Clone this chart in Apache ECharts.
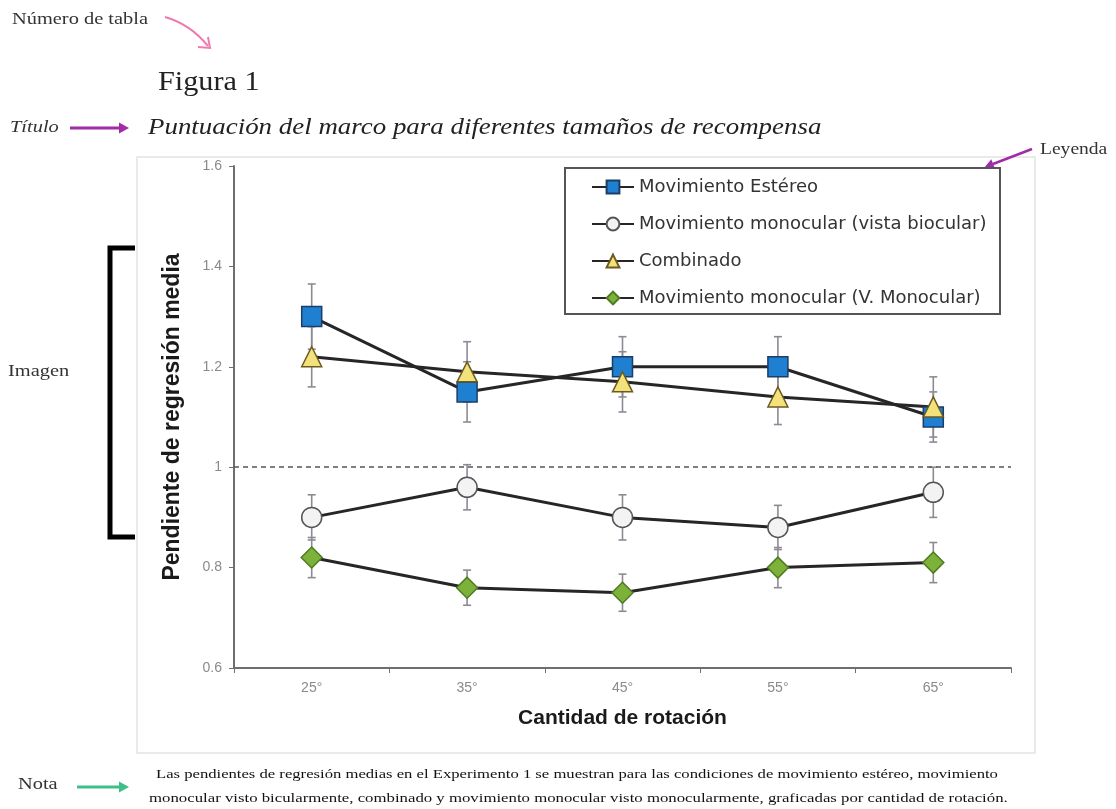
<!DOCTYPE html>
<html>
<head>
<meta charset="utf-8">
<script src="https://cdn.jsdelivr.net/npm/echarts@6/dist/echarts.min.js"></script>
<style>
html,body{margin:0;padding:0;background:#fff;}
#c{width:1116px;height:809px;}
</style>
</head>
<body>
<div id="c"></div>
<script>
// ---- data ----
const categories = ['25°', '35°', '45°', '55°', '65°'];
const seriesNames = [
  'Movimiento Estéreo',
  'Movimiento monocular (vista biocular)',
  'Combinado',
  'Movimiento monocular (V. Monocular)'
];
const estereo = [1.30, 1.15, 1.20, 1.20, 1.10];
const estereoErr = [0.065, 0.06, 0.06, 0.06, 0.05];
const monoBinocular = [0.90, 0.96, 0.90, 0.88, 0.95];
const monoBinocularErr = [0.045, 0.045, 0.045, 0.044, 0.05];
const combinado = [1.22, 1.19, 1.17, 1.14, 1.12];
const combinadoErr = [0.06, 0.06, 0.06, 0.055, 0.06];
const monoMonocular = [0.82, 0.76, 0.75, 0.80, 0.81];
const monoMonocularErr = [0.04, 0.035, 0.037, 0.04, 0.04];
const yTicks = { min: 0.6, max: 1.6, interval: 0.2 };
const referenceLine = 1;

const titleText = 'Puntuación del marco para diferentes tamaños de recompensa';
const figText = 'Figura 1';
const noteLine1 = 'Las pendientes de regresión medias en el Experimento 1 se muestran para las condiciones de movimiento estéreo, movimiento';
const noteLine2 = 'monocular visto bicularmente, combinado y movimiento monocular visto monocularmente, graficadas por cantidad de rotación.';

// ---- chart ----
const chart = echarts.init(document.getElementById('c'), null, { renderer: 'canvas' });

function errorSeries(vals, errs) {
  return {
    type: 'custom',
    silent: true,
    z: 1,
    data: vals.map((v, i) => [i, v - errs[i], v + errs[i]]),
    renderItem: function (params, api) {
      const lo = api.coord([api.value(0), api.value(1)]);
      const hi = api.coord([api.value(0), api.value(2)]);
      const w = 4;
      const st = { stroke: '#8d8a94', lineWidth: 1.6 };
      return {
        type: 'group',
        children: [
          { type: 'line', shape: { x1: lo[0], y1: lo[1], x2: hi[0], y2: hi[1] }, style: st },
          { type: 'line', shape: { x1: lo[0] - w, y1: lo[1], x2: lo[0] + w, y2: lo[1] }, style: st },
          { type: 'line', shape: { x1: hi[0] - w, y1: hi[1], x2: hi[0] + w, y2: hi[1] }, style: st }
        ]
      };
    }
  };
}

function lineSeries(name, vals, symbol, size, fill, border) {
  return {
    type: 'line',
    name: name,
    data: vals,
    symbol: symbol,
    symbolSize: size,
    z: 3,
    lineStyle: { color: '#262626', width: 3 },
    itemStyle: { color: fill, borderColor: border, borderWidth: 1.5 }
  };
}

const serif = '"Liberation Serif", "Times New Roman", serif';

function arrowHead(x, y, angle, size, color) {
  const a = angle;
  const p1 = [x, y];
  const p2 = [x - size * Math.cos(a) + size * 0.55 * Math.sin(a), y - size * Math.sin(a) - size * 0.55 * Math.cos(a)];
  const p3 = [x - size * Math.cos(a) - size * 0.55 * Math.sin(a), y - size * Math.sin(a) + size * 0.55 * Math.cos(a)];
  return { type: 'polygon', shape: { points: [p1, p2, p3] }, style: { fill: color } };
}

const graphics = [
  // faint frame around the chart image
  { type: 'rect', shape: { x: 137, y: 157, width: 898, height: 596 }, style: { fill: 'none', stroke: '#e4e4e4', lineWidth: 1.5 }, z: 0 },
  // legend frame
  { type: 'rect', shape: { x: 565, y: 168, width: 435, height: 146 }, style: { fill: '#fff', stroke: '#555', lineWidth: 2 }, z: 5 },
  // annotations
  { type: 'text', x: 12, y: 20, scaleX: 1.2, style: { text: 'Número de tabla', font: '17px ' + serif, fill: '#333', textVerticalAlign: 'middle' } },
  { type: 'bezierCurve', shape: { x1: 165, y1: 17, cpx1: 190, cpy1: 24, x2: 208, y2: 46 }, style: { stroke: '#f07aae', lineWidth: 2, fill: 'none' } },
  { type: 'polyline', shape: { points: [[198, 47], [210, 48], [208, 37]] }, style: { stroke: '#f07aae', lineWidth: 2, fill: 'none' } },
  { type: 'text', x: 158, y: 83, scaleX: 1.12, style: { text: figText, font: '27px ' + serif, fill: '#222', textVerticalAlign: 'middle' } },
  { type: 'text', x: 10, y: 128, scaleX: 1.2, style: { text: 'Título', font: 'italic 17px ' + serif, fill: '#333', textVerticalAlign: 'middle' } },
  { type: 'line', shape: { x1: 70, y1: 128, x2: 120, y2: 128 }, style: { stroke: '#a02ca8', lineWidth: 3 } },
  arrowHead(129, 128, 0, 10, '#a02ca8'),
  { type: 'text', x: 148, y: 128, scaleX: 1.17, style: { text: titleText, font: 'italic 23px ' + serif, fill: '#222', textVerticalAlign: 'middle' } },
  { type: 'text', x: 1040, y: 150, scaleX: 1.15, style: { text: 'Leyenda', font: '17px ' + serif, fill: '#333', textVerticalAlign: 'middle' } },
  { type: 'line', shape: { x1: 1032, y1: 149, x2: 993, y2: 164 }, style: { stroke: '#a02ca8', lineWidth: 2.5 } },
  arrowHead(984, 168, Math.atan2(168 - 149, 984 - 1032), 10, '#a02ca8'),
  { type: 'text', x: 8, y: 372, scaleX: 1.2, style: { text: 'Imagen', font: '17px ' + serif, fill: '#333', textVerticalAlign: 'middle' } },
  { type: 'polyline', shape: { points: [[135, 248], [110, 248], [110, 537], [135, 537]] }, style: { stroke: '#000', lineWidth: 5, fill: 'none' } },
  { type: 'text', x: 18, y: 785, scaleX: 1.2, style: { text: 'Nota', font: '17px ' + serif, fill: '#333', textVerticalAlign: 'middle' } },
  { type: 'line', shape: { x1: 77, y1: 787, x2: 120, y2: 787 }, style: { stroke: '#3cc08a', lineWidth: 3 } },
  arrowHead(129, 787, 0, 10, '#3cc08a'),
  { type: 'text', x: 156, y: 775, scaleX: 1.28, style: { text: noteLine1, font: '13px ' + serif, fill: '#111', textVerticalAlign: 'middle' } },
  { type: 'text', x: 149, y: 799, scaleX: 1.29, style: { text: noteLine2, font: '13px ' + serif, fill: '#111', textVerticalAlign: 'middle' } }
];

const option = {
  backgroundColor: '#ffffff',
  animation: false,
  grid: { left: 234, right: 105, top: 166, bottom: 141, containLabel: false },
  legend: {
    data: seriesNames,
    orient: 'vertical',
    left: 586,
    top: 173,
    itemWidth: 42,
    itemHeight: 16,
    itemGap: 19,
    z: 10,
    textStyle: { fontFamily: '"DejaVu Sans", sans-serif', fontSize: 18, color: '#333' }
  },
  xAxis: {
    type: 'category',
    data: categories,
    boundaryGap: true,
    name: 'Cantidad de rotación',
    nameLocation: 'middle',
    nameGap: 40,
    nameTextStyle: { fontFamily: '"Liberation Sans", Arial, sans-serif', fontWeight: 'bold', fontSize: 21, color: '#1a1a1a' },
    axisLine: { lineStyle: { color: '#6f6f6f', width: 2 } },
    axisTick: { show: true, length: 5, lineStyle: { color: '#6f6f6f' } },
    axisLabel: { color: '#8a8a8a', fontSize: 14, margin: 13, fontFamily: '"Liberation Sans", Arial, sans-serif' },
    splitLine: { show: false }
  },
  yAxis: {
    type: 'value',
    min: yTicks.min,
    max: yTicks.max,
    interval: yTicks.interval,
    name: 'Pendiente de regresión media',
    nameLocation: 'middle',
    nameGap: 50,
    nameTextStyle: { fontFamily: '"Liberation Sans", Arial, sans-serif', fontWeight: 'bold', fontSize: 23, color: '#1a1a1a' },
    axisLine: { show: true, lineStyle: { color: '#6f6f6f', width: 2 } },
    axisTick: { show: true, length: 5, lineStyle: { color: '#6f6f6f' } },
    axisLabel: { color: '#8a8a8a', fontSize: 14, margin: 12, fontFamily: '"Liberation Sans", Arial, sans-serif' },
    splitLine: { show: false }
  },
  graphic: graphics,
  series: [
    errorSeries(estereo, estereoErr),
    errorSeries(monoBinocular, monoBinocularErr),
    errorSeries(combinado, combinadoErr),
    errorSeries(monoMonocular, monoMonocularErr),
    Object.assign(lineSeries(seriesNames[0], estereo, 'rect', 20, '#1f7fd0', '#1d3d66'), {
      markLine: {
        silent: true,
        symbol: 'none',
        label: { show: false },
        lineStyle: { type: [5, 4], color: '#555', width: 1.5 },
        data: [{ yAxis: referenceLine }]
      }
    }),
    lineSeries(seriesNames[1], monoBinocular, 'circle', 20, '#f3f3f3', '#555'),
    lineSeries(seriesNames[2], combinado, 'triangle', 20, '#f3e27c', '#6d5a1e'),
    lineSeries(seriesNames[3], monoMonocular, 'diamond', 21, '#7cb23a', '#4f7a22')
  ]
};
chart.setOption(option);
</script>
</body>
</html>
